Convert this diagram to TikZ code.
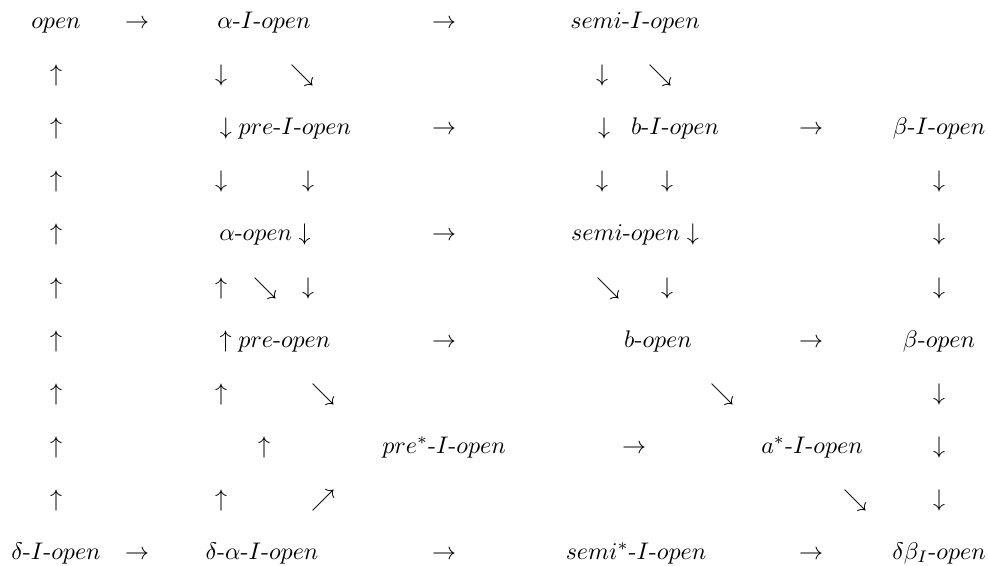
\documentclass[tikz,border=0pt]{standalone}
\begin{document}
\begin{tikzpicture}[x=0.4167pt,y=-0.4167pt,
  lbl/.style={inner sep=0pt,outer sep=0pt,anchor=base},
  arr/.style={inner sep=0pt,outer sep=0pt,anchor=base}]
\useasboundingbox (0,0) rectangle (988,566);
% row 1
\node[lbl] (open) at (56,29) {$open$};
\node[arr] (r1a) at (137,29) {$\rightarrow$};
\node[lbl] (aIo) at (264,29) {$\alpha$-$I$-$open$};
\node[arr] (r1b) at (444,29) {$\rightarrow$};
\node[lbl] (sIo) at (635,29) {$semi$-$I$-$open$};
% row 2
\node[arr] (r2a) at (56,82) {$\uparrow$};
\node[arr] (r2b) at (221,82) {$\downarrow$};
\node[arr] (r2c) at (302,82) {$\searrow$};
\node[arr] (r2d) at (602,82) {$\downarrow$};
\node[arr] (r2e) at (660,82) {$\searrow$};
% row 3
\node[arr] (r3a) at (56,135) {$\uparrow$};
\node[lbl] (pIo) at (285.5,135) {$\downarrow pre$-$I$-$open$};
\node[arr] (r3b) at (444,135) {$\rightarrow$};
\node[arr] (r3c) at (604,135) {$\downarrow$};
\node[lbl] (bIo) at (675,135) {$b$-$I$-$open$};
\node[arr] (r3d) at (811,135) {$\rightarrow$};
\node[lbl] (betaIo) at (939,135) {$\beta$-$I$-$open$};
% row 4
\node[arr] (r4a) at (56,188) {$\uparrow$};
\node[arr] (r4b) at (221,188) {$\downarrow$};
\node[arr] (r4c) at (308,188) {$\downarrow$};
\node[arr] (r4d) at (602,188) {$\downarrow$};
\node[arr] (r4e) at (667,188) {$\downarrow$};
\node[arr] (r4f) at (939,188) {$\downarrow$};
% row 5
\node[arr] (r5a) at (56,241) {$\uparrow$};
\node[lbl] (ao) at (265,241) {$\alpha$-$open\downarrow$};
\node[arr] (r5b) at (444,241) {$\rightarrow$};
\node[lbl] (so) at (635,241) {$semi$-$open\downarrow$};
\node[arr] (r5c) at (939,241) {$\downarrow$};
% row 6
\node[arr] (r6a) at (56,294) {$\uparrow$};
\node[arr] (r6b) at (221,294) {$\uparrow$};
\node[arr] (r6c) at (265,294) {$\searrow$};
\node[arr] (r6d) at (308,294) {$\downarrow$};
\node[arr] (r6e) at (608,294) {$\searrow$};
\node[arr] (r6f) at (667,294) {$\downarrow$};
\node[arr] (r6g) at (939,294) {$\downarrow$};
% row 7
\node[arr] (r7a) at (56,347) {$\uparrow$};
\node[lbl] (po) at (275,347) {$\uparrow pre$-$open$};
\node[arr] (r7b) at (444,347) {$\rightarrow$};
\node[lbl] (bo) at (658,347) {$b$-$open$};
\node[arr] (r7c) at (811,347) {$\rightarrow$};
\node[lbl] (betao) at (939,347) {$\beta$-$open$};
% row 8
\node[arr] (r8a) at (56,400) {$\uparrow$};
\node[arr] (r8b) at (221,400) {$\uparrow$};
\node[arr] (r8c) at (323,400) {$\searrow$};
\node[arr] (r8d) at (722,400) {$\searrow$};
\node[arr] (r8e) at (939,400) {$\downarrow$};
% row 9
\node[arr] (r9a) at (56,453) {$\uparrow$};
\node[arr] (r9b) at (264,453) {$\uparrow$};
\node[lbl] (psIo) at (444,453) {$pre^*$-$I$-$open$};
\node[arr] (r9c) at (634,453) {$\rightarrow$};
\node[lbl] (asIo) at (812,453) {$a^*$-$I$-$open$};
\node[arr] (r9d) at (939,453) {$\downarrow$};
% row 10
\node[arr] (r10a) at (56,506) {$\uparrow$};
\node[arr] (r10b) at (221,506) {$\uparrow$};
\node[arr] (r10c) at (323,506) {$\nearrow$};
\node[arr] (r10d) at (855,506) {$\searrow$};
\node[arr] (r10e) at (939,506) {$\downarrow$};
% row 11
\node[lbl] (dIo) at (56,559) {$\delta$-$I$-$open$};
\node[arr] (r11a) at (137,559) {$\rightarrow$};
\node[lbl] (daIo) at (262,559) {$\delta$-$\alpha$-$I$-$open$};
\node[arr] (r11b) at (444,559) {$\rightarrow$};
\node[lbl] (ssIo) at (636,559) {$semi^*$-$I$-$open$};
\node[arr] (r11c) at (811,559) {$\rightarrow$};
\node[lbl] (dbo) at (939,559) {$\delta\beta_I$-$open$};
\end{tikzpicture}
\end{document}
